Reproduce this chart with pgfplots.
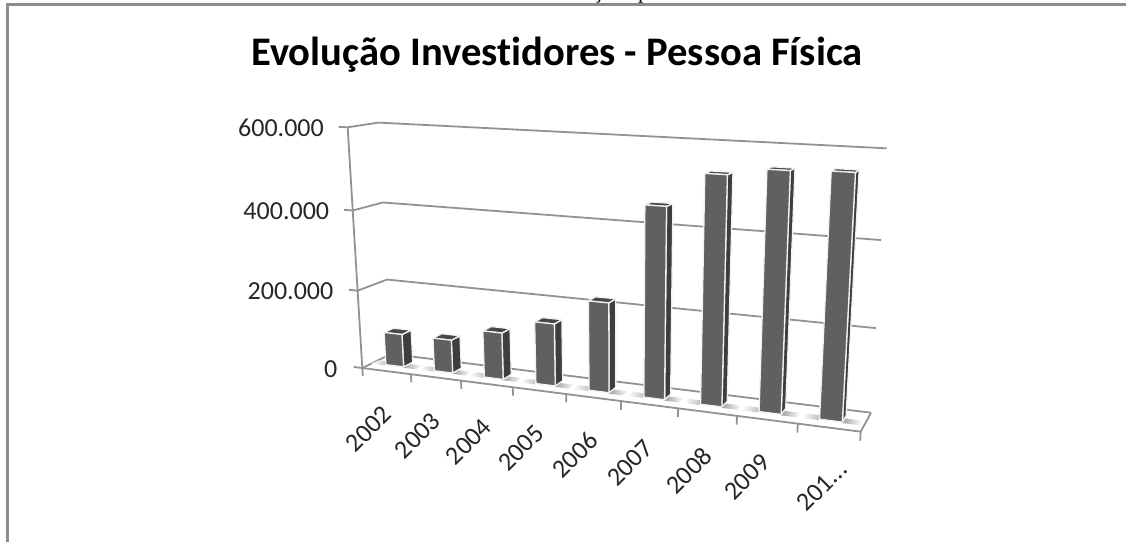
\documentclass[border=0pt]{standalone}
\usepackage{fontspec}
\setmainfont{Carlito}[Ligatures=NoCommon]
\newfontfamily\serifnote{Liberation Serif}
\usepackage{pgfplots}
\usepackage{pgfplotstable}
\pgfplotsset{compat=1.18}
\definecolor{axgray}{HTML}{929292}
\definecolor{framegray}{HTML}{8C8C8C}
\definecolor{barfront}{HTML}{606060}
\definecolor{barside}{HTML}{3E3E3E}
\definecolor{bartop}{HTML}{484848}
\definecolor{labelc}{HTML}{262626}
% data: investors in thousands
\pgfplotstableread{
ano inv
2002 85
2003 85
2004 118
2005 155
2006 220
2007 456
2008 535
2009 552
2010 556
}\investidores
% faces of a unit bar
\pgfplotstableread{
u d h
0 0 0
1 0 0
1 0 1
0 0 1
0 0 0
}\frontface
\pgfplotstableread{
u d h
1 0 0
1 1 0
1 1 1
1 0 1
1 0 0
}\sideface
\pgfplotstableread{
u d h
0 0 1
1 0 1
1 1 1
0 1 1
0 0 1
}\topface
\pgfplotstableread{
u d h
0 0 0
1 0 0
1 1 0
0 1 0
}\floorface
\pgfplotstableread{
s r
0 0
1 0
}\segment
% projection of the 3-D box (t,d,h in 0..1) on the picture
\newcommand\WW[3]{(1-0.135*(#1)+0.0412*(#2)-0.0534*(#3))}
\newcommand\PX[3]{((362.3+382.2*(#1)+44.8*(#2)-33.2*(#3))/\WW{#1}{#2}{#3})}
\newcommand\PY[3]{((368+5.4*(#1)+0.6*(#2)-247.5*(#3))/\WW{#1}{#2}{#3})}
% a line in the box, from (t,d,h) to (t,d,h)
\newcommand\boxline[6]{\addplot[axgray,line width=1.8pt] table[x expr=\PX{#1+\thisrow{s}*((#4)-(#1))}{#2+\thisrow{s}*((#5)-(#2))}{#3+\thisrow{s}*((#6)-(#3))},y expr=\PY{#1+\thisrow{s}*((#4)-(#1))}{#2+\thisrow{s}*((#5)-(#2))}{#3+\thisrow{s}*((#6)-(#3))}] {\segment};}
\newcommand\TT[1]{((#1+0.5)/9-0.004-0.0205+0.041*\thisrow{u})}
\newcommand\DD{(0.35+0.33*\thisrow{d})}
\newcommand\barface[3]{\addplot[#3,draw=white!95!black,line width=1.3pt,line join=round] table[x expr=\PX{\TT{#1}}{\DD}{\val/600*\thisrow{h}},y expr=\PY{\TT{#1}}{\DD}{\val/600*\thisrow{h}}] {#2};}
\tikzset{vlab/.style={font=\fontsize{26}{26}\selectfont,text=labelc,anchor=east,inner sep=0pt},
  xlab/.style={font=\fontsize{26}{26}\selectfont,text=labelc,rotate=45,inner sep=0pt}}
\begin{document}
\begin{tikzpicture}[x=1pt,y=1pt]
\clip (0,0) rectangle (1126,542);
\begin{axis}[
  at={(0,0)},anchor=south west,
  scale only axis,width=1126pt,height=542pt,
  xmin=0,xmax=1126,ymin=0,ymax=542,y dir=reverse,
  hide axis,clip=false,
]
% stray text cut by the top of the page
\node[font=\serifnote\fontsize{22}{22}\selectfont,anchor=base,inner sep=0pt] at (axis cs:621,-1.8) {ção\hspace{9pt} p};
% frame
\addplot[framegray,line width=2.5pt] coordinates {(7.5,542) (7.5,4.5) (1126,4.5)};
% title
\node[font=\fontsize{40.6}{40.6}\selectfont\bfseries,anchor=base,inner sep=0pt] at (axis cs:557,65) {Evolução Investidores - Pessoa Física};
% walls
\boxline{0}{1}{1/3}{1}{1}{1/3}
\boxline{0}{1}{2/3}{1}{1}{2/3}
\boxline{0}{1}{1}{1}{1}{1}
\boxline{0}{0}{1/3}{0}{1}{1/3}
\boxline{0}{0}{2/3}{0}{1}{2/3}
\boxline{0}{0}{1}{0}{1}{1}
\boxline{0}{1}{0}{1}{1}{0}
\boxline{0}{0}{0}{0}{1}{0}
\boxline{1}{0}{0}{1}{1}{0}
\boxline{0}{0}{0}{0}{0}{1}
\boxline{0}{0}{0}{1}{0}{0}
% ticks
\boxline{-0.02}{0}{0}{0}{0}{0}
\boxline{-0.02}{0}{1/3}{0}{0}{1/3}
\boxline{-0.02}{0}{2/3}{0}{0}{2/3}
\boxline{-0.02}{0}{1}{0}{0}{1}
\pgfplotsinvokeforeach{0,...,9}{
  \boxline{#1/9}{0}{0}{#1/9}{0}{-0.035}
}
% bars
\pgfplotsinvokeforeach{0,...,8}{
  \pgfplotstablegetelem{#1}{inv}\of\investidores
  \let\val\pgfplotsretval
  % soft floor shadows right and left of the bar
  \addplot[draw=none,left color=black!38,right color=white] table[x expr=\PX{(#1+0.5)/9+0.017+0.03*\thisrow{u}}{0.3+0.25*\thisrow{d}}{0},y expr=\PY{(#1+0.5)/9+0.017+0.03*\thisrow{u}}{0.3+0.25*\thisrow{d}}{0}]{\floorface};
  \addplot[draw=none,left color=white,right color=black!30] table[x expr=\PX{(#1+0.5)/9-0.055+0.03*\thisrow{u}}{0.3+0.25*\thisrow{d}}{0},y expr=\PY{(#1+0.5)/9-0.055+0.03*\thisrow{u}}{0.3+0.25*\thisrow{d}}{0}]{\floorface};
  \barface{#1}{\sideface}{fill=barside}
  \barface{#1}{\topface}{fill=bartop}
  \barface{#1}{\frontface}{fill=barfront}
}
% value labels
\node[vlab] at (axis cs:324,127.7) {600.000};
\node[vlab] at (axis cs:329.3,211) {400.000};
\node[vlab] at (axis cs:333.5,291.5) {200.000};
\node[vlab] at (axis cs:337.5,369) {0};
% category labels
\node[xlab] at (axis cs:368.7,429) {2002};
\node[xlab] at (axis cs:417.5,435.5) {2003};
\node[xlab] at (axis cs:468.7,441.7) {2004};
\node[xlab] at (axis cs:521,448) {2005};
\node[xlab] at (axis cs:575,455) {2006};
\node[xlab] at (axis cs:630,463) {2007};
\node[xlab] at (axis cs:689,470.5) {2008};
\node[xlab] at (axis cs:747,477) {2009};
\node[xlab] at (axis cs:822,486) {201...};
\end{axis}
\end{tikzpicture}
\end{document}
